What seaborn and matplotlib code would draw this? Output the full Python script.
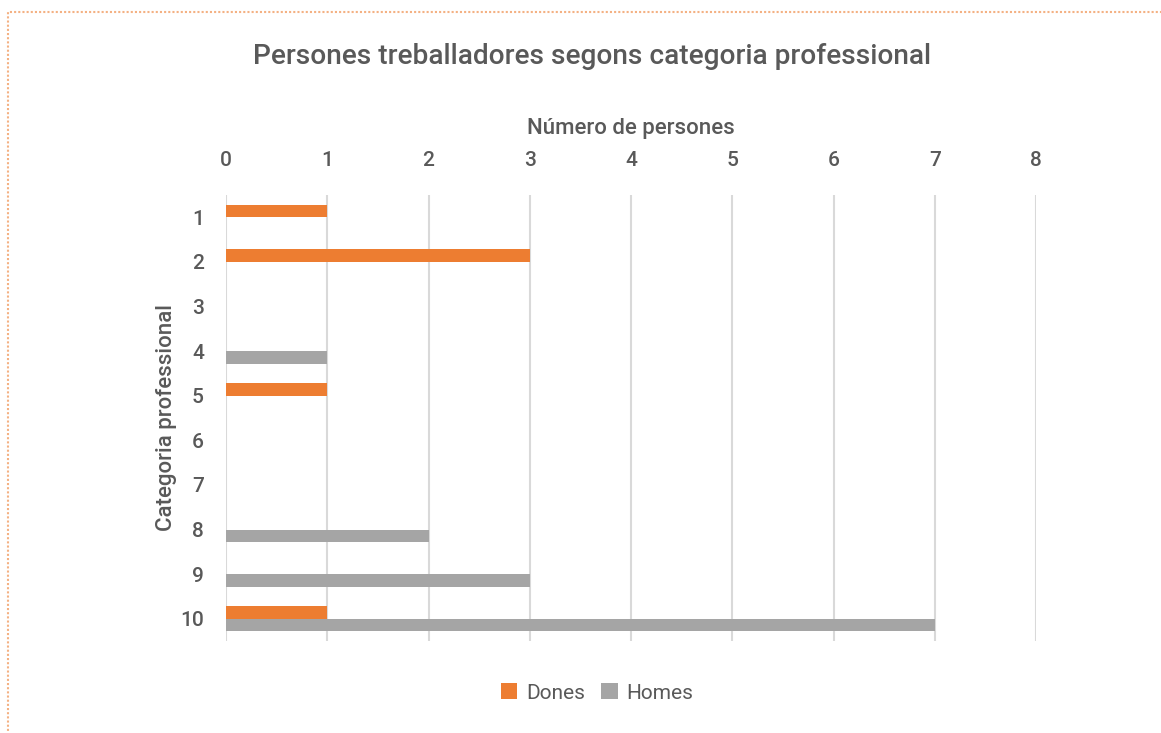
import pandas as pd
import numpy as np
import matplotlib.pyplot as plt
import seaborn as sns
from matplotlib.patches import Rectangle

# Dades
categories = ['1', '2', '3', '4', '5', '6', '7', '8', '9', '10']
dones = [1, 3, 0, 0, 1, 0, 0, 0, 0, 1]
homes = [0, 0, 0, 1, 0, 0, 0, 2, 3, 7]
xticks = [0, 1, 2, 3, 4, 5, 6, 7, 8]

df = pd.DataFrame({
    'Categoria': categories * 2,
    'Valor': dones + homes,
    'Sexe': ['Dones'] * len(categories) + ['Homes'] * len(categories),
})

text_color = '#595959'
sns.set_theme(style='white')
plt.rcParams['font.family'] = ['Roboto', 'DejaVu Sans']

fig = plt.figure(figsize=(11.61, 7.33), dpi=100)
ax = fig.add_axes([226/1161, 1 - 641/733, (1036-226)/1161, (641-195)/733])

sns.barplot(data=df, x='Valor', y='Categoria', hue='Sexe', order=categories,
            palette={'Dones': '#ED7D31', 'Homes': '#A5A5A5'},
            orient='h', width=0.57, linewidth=0, saturation=1, ax=ax, zorder=3)

ax.set_xlim(0, 8)
ax.set_ylim(len(categories) - 0.5, -0.5)
ax.set_xticks(xticks)
ax.xaxis.tick_top()
ax.xaxis.set_label_position('top')
ax.tick_params(axis='x', length=0, pad=18, labelsize=15, labelcolor=text_color)
ax.tick_params(axis='y', length=0, pad=16, labelsize=15, labelcolor=text_color)
for lab in ax.get_xticklabels() + ax.get_yticklabels():
    lab.set_fontweight('medium')

ax.grid(axis='x', color='#D9D9D9', linewidth=1.5, zorder=0)
ax.grid(axis='y', visible=False)
for s in ax.spines.values():
    s.set_visible(False)

ax.set_xlabel('Número de persones', fontsize=16, color=text_color, labelpad=12, fontweight='medium')
ax.set_ylabel('Categoria professional', fontsize=16, color=text_color, fontweight='medium')
ax.yaxis.set_label_coords((177 - 226) / 810, 0.5)

fig.text(592/1161, 1 - 57/733, 'Persones treballadores segons categoria professional',
         ha='center', va='center', fontsize=20.2, color=text_color, fontweight='medium')

ax.legend(title=None, loc='center', bbox_to_anchor=(597/1161, 1 - 693/733),
          bbox_transform=fig.transFigure, ncol=2, frameon=False,
          fontsize=15, labelcolor=text_color, handlelength=0.8, handleheight=0.8,
          handletextpad=0.4, columnspacing=0.8)

# vora puntejada
fig.patches.append(Rectangle((8/1161, -0.1), 1.2, 1 - 12/733 + 0.1, transform=fig.transFigure,
                             fill=False, edgecolor='#F4B183', linestyle=(0, (1, 1)), linewidth=1.5))

fig.savefig('out.png', dpi=100)
